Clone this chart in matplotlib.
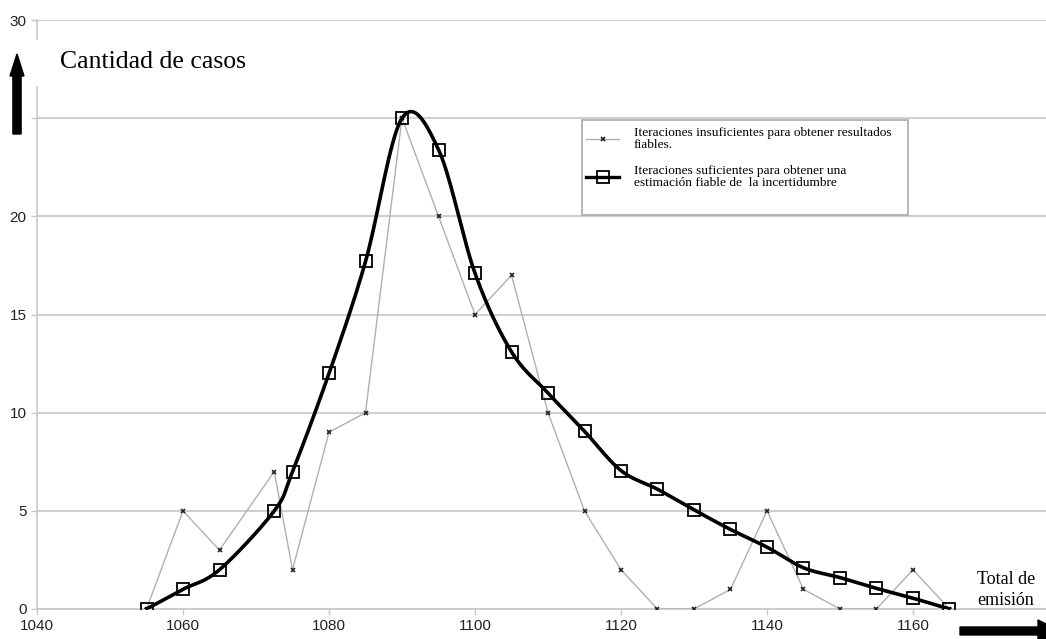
import numpy as np
import matplotlib
matplotlib.use("Agg")
import matplotlib.pyplot as plt
from matplotlib.patches import FancyArrow, Rectangle

# emission totals (x) and case counts
x_vals = [1055, 1060, 1065, 1072.5, 1075, 1080, 1085, 1090, 1095, 1100, 1105,
          1110, 1115, 1120, 1125, 1130, 1135, 1140, 1145, 1150, 1155, 1160, 1165]
insuf = [0, 5, 3, 7, 2, 9, 10, 25, 20, 15, 17,
         10, 5, 2, 0, 0, 1, 5, 1, 0, 0, 2, 0]
suf = [0, 1, 2, 5, 7, 12, 17.7, 25, 23.4, 17.1, 13.1,
       11, 9.05, 7.05, 6.1, 5.05, 4.05, 3.15, 2.1, 1.6, 1.05, 0.55, 0]

lab_insuf = "Iteraciones insuficientes para obtener resultados\nfiables."
lab_suf = "Iteraciones suficientes para obtener una\nestimación fiable de  la incertidumbre"
y_ticks = [0, 5, 10, 15, 20, 25, 30]
y_ticklabels = ["0", "5", "10", "15", "20", "", "30"]
x_ticks = [1040, 1060, 1080, 1100, 1120, 1140, 1160]


def smooth(xs, ys, n=20):
    # catmull-rom style smoothing, like the spreadsheet "smoothed line"
    xs = np.asarray(xs, float)
    ys = np.asarray(ys, float)
    px = np.concatenate([[2 * xs[0] - xs[1]], xs, [2 * xs[-1] - xs[-2]]])
    py = np.concatenate([[2 * ys[0] - ys[1]], ys, [2 * ys[-1] - ys[-2]]])
    ox, oy = [], []
    t = np.linspace(0, 1, n)
    for i in range(1, len(px) - 2):
        for arr, out in ((px, ox), (py, oy)):
            p0, p1, p2, p3 = arr[i - 1], arr[i], arr[i + 1], arr[i + 2]
            m1 = (p2 - p0) / 6.0
            m2 = (p3 - p1) / 6.0
            b = ((1 - t) ** 3 * p1 + 3 * (1 - t) ** 2 * t * (p1 + m1)
                 + 3 * (1 - t) * t ** 2 * (p2 - m2) + t ** 3 * p2)
            out.extend(b)
    return np.array(ox), np.array(oy)


W, H = 1046, 639
fig = plt.figure(figsize=(W / 100, H / 100), dpi=100)
ax = fig.add_axes([37 / W, 30 / H, 1 - 37 / W, 589 / H])

ax.plot(x_vals, insuf, color='#b0b0b0', lw=1.0, zorder=3)
ax.plot(x_vals, insuf, ls='none', marker='x', ms=3.5, mew=1.2, color='#222222', zorder=4)

sx, sy = smooth(x_vals, suf)
ax.plot(sx, sy, color='black', lw=2.6, zorder=5)
ax.plot(x_vals, suf, ls='none', marker='s', ms=8, mfc='none', mec='black', mew=1.3, zorder=6)

# legend proxies, frame drawn separately
h1, = ax.plot([], [], color='#b0b0b0', lw=1.0, marker='x', ms=3.5, mew=1.2, mec='#222222')
h2, = ax.plot([], [], color='black', lw=2.4, marker='s', ms=8, mfc='none', mec='black', mew=1.3)
leg = ax.legend([h1, h2], [lab_insuf, lab_suf], loc='upper left',
                bbox_to_anchor=((586 - 37) / 1009, (609 - 127) / 589),
                prop={'family': 'Liberation Serif', 'size': 9.6},
                frameon=False, handlelength=2.5, handletextpad=1.1,
                borderpad=0, labelspacing=1.05, borderaxespad=0)
for t in leg.get_texts():
    t.set_linespacing(1.0)
ax.add_patch(Rectangle(((582 - 37) / 1009, (609 - 215) / 589), 326 / 1009, 95 / 589,
                       transform=ax.transAxes, fill=False, ec='#aaaaaa', lw=1.2, zorder=2))

ax.set_xlim(1040, 1040 + 1009 / 7.3)
ax.set_ylim(0, 30)
ax.set_xticks(x_ticks)
ax.set_yticks(y_ticks)
ax.set_yticklabels(y_ticklabels)
ax.grid(axis='y', color='#d0d0d0', lw=1.5)
ax.set_axisbelow(True)
for s in ['top', 'right']:
    ax.spines[s].set_visible(False)
for s in ['left', 'bottom']:
    ax.spines[s].set_color('#c8c8c8')
    ax.spines[s].set_linewidth(1.2)
ax.tick_params(colors='#c8c8c8', labelcolor='#222222', length=4, width=1)
for lbl in ax.get_xticklabels() + ax.get_yticklabels():
    lbl.set_fontfamily('Liberation Sans')
    lbl.set_fontsize(11)

# axis titles with arrows
fig.text(60 / W, 1 - 62 / H, "Cantidad de casos", family='Liberation Serif',
         fontsize=18.5, va='center', ha='left')
fig.text(1006 / W, 1 - 590 / H, "Total de\nemisión", family='Liberation Serif',
         fontsize=13, va='center', ha='center', linespacing=1.3)
# gap in the y spine behind the arrow
fig.patches.append(Rectangle((28 / W, 1 - 85 / H), 14 / W, 45 / H, color='white',
                             transform=fig.transFigure, figure=fig))
fig.patches.append(FancyArrow(
    17 / W, 1 - 134 / H, 0, 80 / H, width=5 / H, head_width=14 / W,
    head_length=22 / H, length_includes_head=True, color='black',
    transform=fig.transFigure, figure=fig))
fig.patches.append(FancyArrow(
    960 / W, 1 - 631 / H, 100 / W, 0, width=8 / H, head_width=22 / H,
    head_length=22 / W, length_includes_head=True, color='black',
    transform=fig.transFigure, figure=fig))

fig.savefig("out.png", dpi=100)
